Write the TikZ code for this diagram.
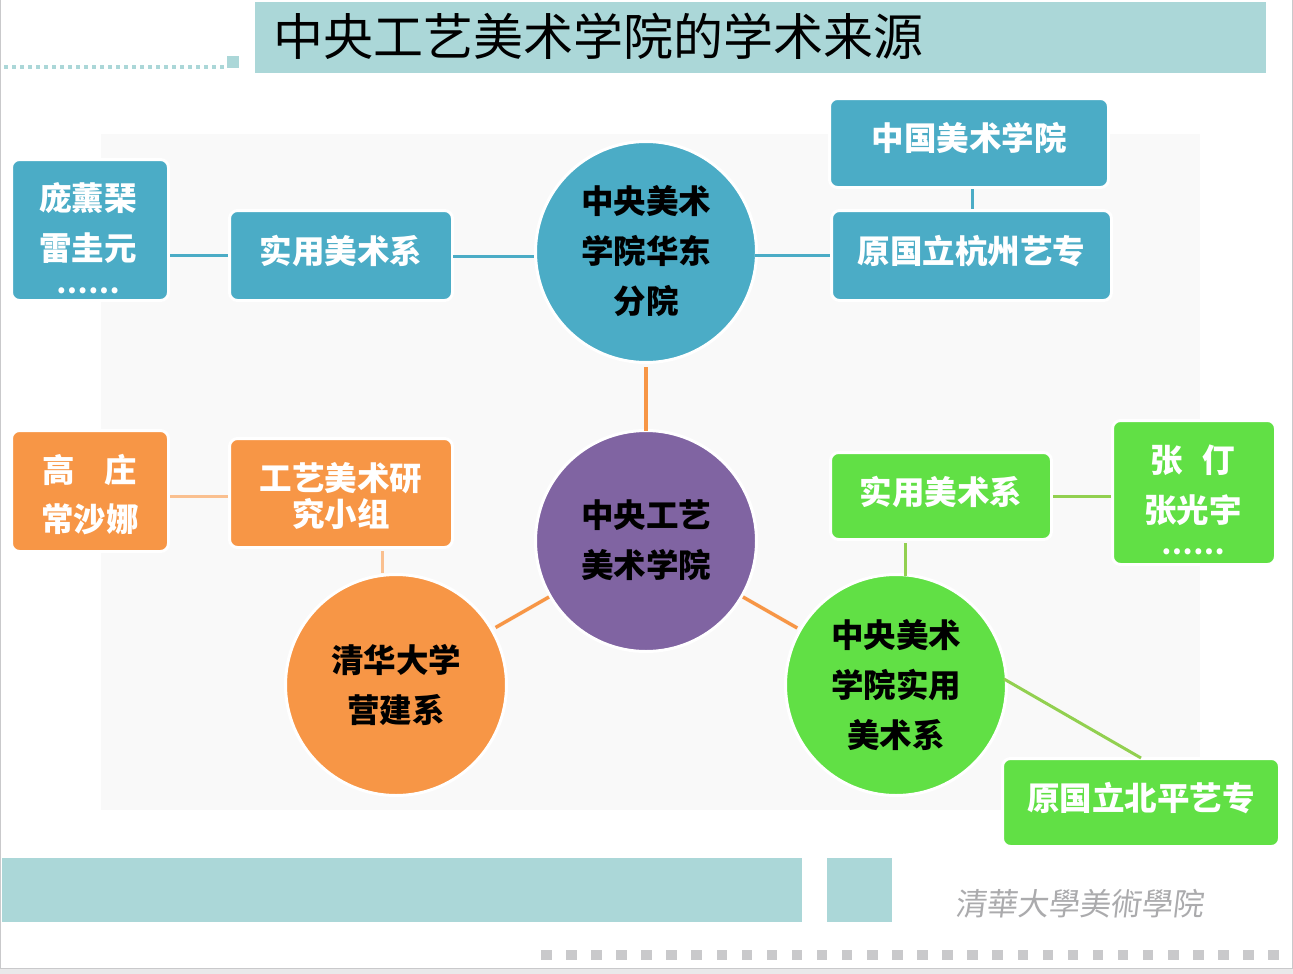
\documentclass[tikz,border=0pt]{standalone}
\usepackage{fontspec}
\setmainfont{Noto Sans CJK SC}
\newfontfamily\sigfont[FakeSlant=0.12]{Noto Sans CJK TC}
\definecolor{band}{HTML}{ABD7D8}
\definecolor{tblue}{HTML}{4BACC6}
\definecolor{torange}{HTML}{F79646}
\definecolor{tgreen}{HTML}{61E045}
\definecolor{tpurple}{HTML}{8064A2}
\definecolor{pale}{HTML}{FAC090}
\definecolor{lgreen}{HTML}{92D050}
\definecolor{pagegrey}{HTML}{C9C9CB}
\tikzset{
 boxbase/.style={rectangle,rounded corners=8pt,draw=white,line width=3pt,text=white,
   font=\fontsize{32.5}{36}\selectfont\bfseries,align=center,inner sep=0pt},
 bluebox/.style={boxbase,fill=tblue},
 orangebox/.style={boxbase,fill=torange},
 greenbox/.style={boxbase,fill=tgreen},
 lifted/.style={text height=24pt,text depth=#1},
 hub/.style={circle,minimum size=221pt,inner sep=0pt,draw=white,line width=3pt,text=black,
   font=\fontsize{32.5}{50}\selectfont\bfseries,align=center},
 boxtext/.style={text=white,font=\fontsize{32.5}{50}\selectfont\bfseries,align=center,inner sep=0pt},
 dotstext/.style={text=white,font=\fontsize{28}{28}\selectfont\bfseries,inner sep=0pt},
 conn/.style={line width=3pt},
 hubline/.style={line width=3.5pt,torange},
}
\begin{document}
\begin{tikzpicture}[x=1pt,y=-1pt]
\useasboundingbox (0,0) rectangle (1293,974);
\fill[white] (0,0) rectangle (1293,974);
\fill[pagegrey!40] (0,968) rectangle (1293,974);
\draw[pagegrey,line width=1pt] (0.5,0) -- (0.5,968) -- (1292,968) -- (1292,0);
\fill[black!2.5] (101,134) rectangle (1200,810);
% header and footer decoration
\fill[band] (255,2) rectangle (1266,73);
\foreach \i in {0,...,27} \fill[band] (4+8*\i,65) rectangle +(3.6,3.6);
\fill[band] (226.5,56) rectangle (238.5,68);
\fill[band] (2,858) rectangle (802,922);
\fill[band] (827,858) rectangle (891.5,922);
\foreach \i in {0,...,29} \fill[pagegrey] (541+25.08*\i,949.5) rectangle +(10.5,10.5);
\node[anchor=west,inner sep=0pt,font=\fontsize{50}{50}\selectfont,text=black] (title) at (273,36) {中央工艺美术学院的学术来源};
\node[inner sep=0pt,text=pagegrey!85!black,font=\fontsize{31}{31}\selectfont\sigfont] (sig) at (1079,904) {清華大學美術學院};
% hubs
\node[hub,fill=tblue] (east) at (646,252) {};
\node[boxtext,text=black] (eastt) at (646,251) {中央美术\\学院华东\\分院};
\node[hub,fill=tpurple] (centre) at (646,541) {};
\node[boxtext,text=black] (centret) at (646,540) {中央工艺\\美术学院};
\node[hub,fill=torange] (tsinghua) at (396,685) {清华大学\\营建系};
\node[hub,fill=tgreen] (cafa) at (896,685) {中央美术\\学院实用\\美术系};
% boxes
\node[bluebox,minimum width=157pt,minimum height=141pt] (pang) at (90,230) {};
\node[boxtext] (pangt) at (88,223.5) {庞薰琹\\雷圭元};
\node[dotstext] (pangd) at (88,291) {……};
\node[bluebox,minimum width=223pt,minimum height=90pt,lifted=8pt] (shiyong1) at (341,255.5) {实用美术系};
\node[bluebox,minimum width=279pt,minimum height=89pt,lifted=10pt] (zgms) at (969,143) {中国美术学院};
\node[bluebox,minimum width=280pt,minimum height=90pt,lifted=8pt] (hangzhou) at (971.5,255.5) {原国立杭州艺专};
\node[orangebox,minimum width=157pt,minimum height=121pt] (gao) at (90,491) {};
\node[boxtext,font=\fontsize{32.5}{49}\selectfont\bfseries] (gaot) at (90,494.5) {高\hspace{0.9em}庄\\常沙娜};
\node[orangebox,minimum width=223pt,minimum height=109pt] (gongyi) at (341,493) {};
\node[boxtext,font=\fontsize{32.5}{36}\selectfont\bfseries] (gongyit) at (341,496) {工艺美术研\\究小组};
\node[greenbox,minimum width=221pt,minimum height=87pt,lifted=8pt] (shiyong2) at (941,496) {实用美术系};
\node[greenbox,minimum width=163pt,minimum height=144pt] (zhang) at (1194,492.5) {};
\node[boxtext] (zhangt) at (1193,485.5) {张\hspace{0.6em}仃\\张光宇};
\node[dotstext] (zhangd) at (1193,552) {……};
\node[greenbox,minimum width=277pt,minimum height=88pt,lifted=8pt] (beiping) at (1141,802.5) {原国立北平艺专};
% connectors
\coordinate (p1) at (170,255.5);
\draw[conn,tblue] (p1) -- (shiyong1.west |- p1);
\coordinate (p2) at (453,256);
\draw[conn,tblue] (p2) -- (east.west |- p2);
\coordinate (p3) at (755,255);
\draw[conn,tblue] (p3) -- (hangzhou.west |- p3);
\draw[conn,tblue] (zgms.south -| 972,0) -- (hangzhou.north -| 972,0);
\draw[line width=4pt,torange] (east.south) ++(0,3) -- ([yshift=-2pt]centre.north);
\draw[hubline,shorten >=3pt] (centre.210) -- (tsinghua.30);
\draw[hubline,shorten >=2pt] (centre.330) -- (cafa.150);
\coordinate (o1) at (170,496);
\draw[conn,pale] (o1) -- (gongyi.west |- o1);
\draw[conn,pale] (gongyi.south -| 382,0) ++(0,2) -- (tsinghua.north -| 382,0);
\coordinate (g1) at (1053,496);
\draw[conn,lgreen] (g1) -- (zhang.west |- g1);
\draw[conn,lgreen] (shiyong2.south -| 905,0) ++(0,2) -- (905,576);
\coordinate (g2) at (1004,679);
\coordinate (g3) at (1141,758);
\draw[conn,lgreen] (g2) -- (g3);
\end{tikzpicture}
\end{document}
